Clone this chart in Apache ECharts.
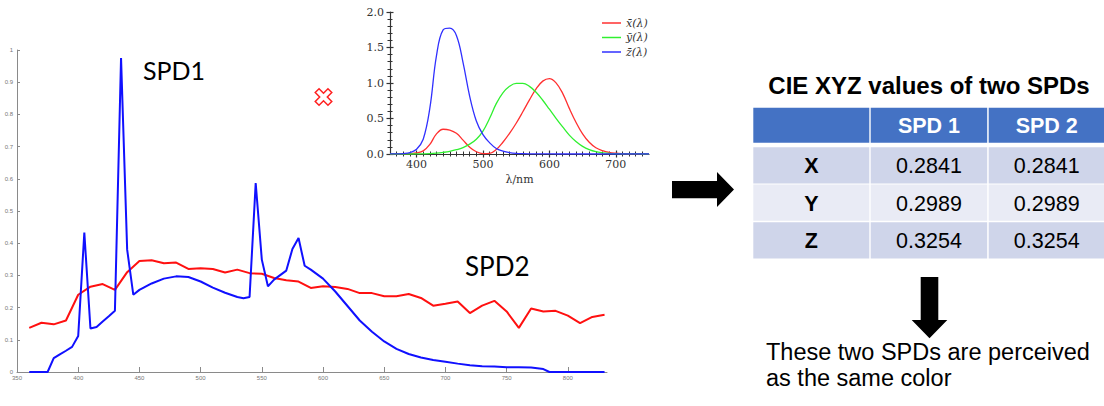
<!DOCTYPE html>
<html><head><meta charset="utf-8">
<script src="https://cdn.jsdelivr.net/npm/echarts@6/dist/echarts.min.js"></script>
<style>html,body{margin:0;padding:0;background:#fff}#c{width:1104px;height:406px}</style>
</head><body><div id="c"></div>
<script>
// ---- Main chart data ----
const spd1Wavelengths = [360,365,370,375,380,385,390,395,400,405,410,415,420,425,430,435,440,445,450,460,470,480,490,500,510,520,530,535,540,545,550,555,560,570,575,580,585,590,600,610,620,630,640,650,660,670,680,690,700,710,720,730,740,750,760,770,780,785,790,800,810,820,830];
const spd1Values = [0,0,0,0,0.043,0.055,0.066,0.078,0.112,0.433,0.135,0.14,0.157,0.173,0.19,0.975,0.38,0.24,0.255,0.275,0.29,0.297,0.295,0.281,0.262,0.246,0.233,0.229,0.233,0.587,0.349,0.266,0.287,0.315,0.382,0.416,0.33,0.318,0.29,0.25,0.205,0.16,0.125,0.095,0.072,0.056,0.045,0.037,0.032,0.026,0.021,0.018,0.017,0.015,0.015,0.014,0.009,0,0,0,0,0,0];
const spd2Wavelengths = [360,370,380,390,400,410,420,430,440,450,460,470,480,490,500,510,520,530,540,550,560,570,580,590,600,610,620,630,640,650,660,670,680,690,700,710,720,730,740,750,760,770,780,790,800,810,820,830];
const spd2Values = [0.137,0.153,0.148,0.16,0.24,0.265,0.273,0.255,0.31,0.345,0.347,0.338,0.34,0.32,0.322,0.32,0.309,0.318,0.307,0.305,0.292,0.285,0.281,0.261,0.266,0.264,0.258,0.245,0.245,0.235,0.235,0.242,0.23,0.206,0.212,0.219,0.183,0.206,0.221,0.188,0.137,0.197,0.188,0.19,0.175,0.152,0.171,0.178];
const mainXTicks = [350,400,450,500,550,600,650,700,750,800];

// ---- Inset: CIE 1931 colour matching functions ----
const cmfWavelengths = [360,370,380,390,400,410,420,430,440,450,460,470,480,490,500,510,520,530,540,550,560,570,580,590,600,610,620,630,640,650,660,670,680,690,700,710,720,730,740,750];
const cmfX = [0.00013,0.000415,0.001368,0.004243,0.01431,0.04351,0.13438,0.2839,0.34828,0.3362,0.2908,0.19536,0.09564,0.03201,0.0049,0.0093,0.06327,0.1655,0.2904,0.43345,0.5945,0.7621,0.9163,1.0263,1.0622,1.0026,0.85445,0.6424,0.4479,0.2835,0.1649,0.0874,0.04677,0.0227,0.011359,0.00579,0.002899,0.00144,0.00069,0.000332];
const cmfY = [0.000004,0.000012,0.000039,0.00012,0.000396,0.00121,0.004,0.0116,0.023,0.038,0.06,0.09098,0.13902,0.20802,0.323,0.503,0.71,0.862,0.954,0.99495,0.995,0.952,0.87,0.757,0.631,0.503,0.381,0.265,0.175,0.107,0.061,0.032,0.017,0.00821,0.004102,0.002091,0.001047,0.00052,0.000249,0.00012];
const cmfZ = [0.000606,0.001946,0.00645,0.02005,0.06785,0.2074,0.6456,1.3856,1.74706,1.77211,1.6692,1.28764,0.81295,0.46518,0.272,0.1582,0.07825,0.04216,0.0203,0.00875,0.0039,0.0021,0.00165,0.0011,0.0008,0.00034,0.00019,0.00005,0.00002,0,0,0,0,0,0,0,0,0,0,0];
const cmfNames = ['x\u0304(\u03bb)', 'y\u0304(\u03bb)', 'z\u0304(\u03bb)'];
const insetXTicks = [400,500,600,700];
const insetMinorTicks = [370,380,390,400,410,420,430,440,450,460,470,480,490,500,510,520,530,540,550,560,570,580,590,600,610,620,630,640,650,660,670,680,690,700,710,720,730,740];

// ---- Table ----
const tableTitle = 'CIE XYZ values of two SPDs';
const tableHeader = ['', 'SPD 1', 'SPD 2'];
const tableRows = [['X','0.2841','0.2841'],['Y','0.2989','0.2989'],['Z','0.3254','0.3254']];
const noteLines = ['These two SPDs are perceived', 'as the same color'];

const pairs = (xs, ys) => xs.map((x, i) => [x, ys[i]]);

const chart = echarts.init(document.getElementById('c'), null, {renderer: 'svg'});

const SANS = 'Liberation Sans, Arial, sans-serif';
const SERIF = 'DejaVu Serif, serif';
const mainGrey = '#8a8a8a';
const insetInk = '#333';

function insetX(extra) {
  return Object.assign({
    type: 'value', gridIndex: 1, min: 360, max: 750, position: 'bottom',
    axisLine: {show: false, onZero: false}, splitLine: {show: false},
    axisLabel: {show: false}, axisTick: {show: false}
  }, extra);
}
function insetY(extra) {
  return Object.assign({
    type: 'value', gridIndex: 1, min: 0, max: 2, interval: 0.5, position: 'left',
    axisLine: {show: false, onZero: false}, splitLine: {show: false},
    axisLabel: {show: false}, axisTick: {show: false}
  }, extra);
}

// table graphics
const colX = [753.3, 870.7, 988.7];
const colW = [116, 116.5, 116];
const headTop = 107.7, headH = 35;
const rowTops = [147.3, 184.6, 222.2], rowH = 36.2;
const rowFill = ['#CFD5EA', '#E9EBF5', '#CFD5EA'];
const tableEls = [];
for (let c = 0; c < 3; c++) {
  tableEls.push({type: 'rect', shape: {x: colX[c], y: headTop, width: colW[c], height: headH}, style: {fill: '#4472C4'}});
  if (tableHeader[c]) tableEls.push({type: 'text', x: colX[c] + colW[c] / 2, y: headTop + headH / 2 + 1,
    style: {text: tableHeader[c], fill: '#fff', font: 'bold 21.5px ' + SANS, align: 'center', verticalAlign: 'middle'}});
}
tableRows.forEach((row, r) => {
  for (let c = 0; c < 3; c++) {
    tableEls.push({type: 'rect', shape: {x: colX[c], y: rowTops[r], width: colW[c], height: rowH}, style: {fill: rowFill[r]}});
    tableEls.push({type: 'text', x: colX[c] + colW[c] / 2, y: rowTops[r] + rowH / 2 + 1,
      style: {text: row[c], fill: '#000', font: (c === 0 ? 'bold ' : '') + '21.5px ' + SANS, align: 'center', verticalAlign: 'middle'}});
  }
});

// hollow cross shape (plus rotated 45deg)
const w = 2.7, L = 9;
const plus = [[-w,-L],[w,-L],[w,-w],[L,-w],[L,w],[w,w],[w,L],[-w,L],[-w,w],[-L,w],[-L,-w],[-w,-w]];

const option = {
  animation: false,
  backgroundColor: '#fff',
  grid: [
    {left: 17, right: 497, top: 50, bottom: 34},
    {left: 390, top: 12, width: 259, height: 142}
  ],
  legend: {
    data: cmfNames, left: 597, top: 12, orient: 'vertical', icon: 'rect',
    itemWidth: 19, itemHeight: 1.5, itemGap: 2.5,
    textStyle: {fontFamily: SERIF, fontStyle: 'italic', fontSize: 11, color: insetInk, lineHeight: 12}
  },
  xAxis: [
    {type: 'value', gridIndex: 0, min: 350, max: 832, position: 'bottom',
      axisLine: {show: true, onZero: false, lineStyle: {color: mainGrey, width: 1}},
      axisTick: {show: true, inside: true, length: 5, customValues: mainXTicks, lineStyle: {color: mainGrey}},
      axisLabel: {customValues: mainXTicks, fontSize: 6, color: '#777', margin: 3, fontFamily: SANS},
      splitLine: {show: false}},
    insetX({axisLine: {show: true, onZero: false, lineStyle: {color: insetInk, width: 1.2}},
      axisTick: {show: true, length: 3.5, customValues: insetXTicks, lineStyle: {color: insetInk, width: 1.2}},
      axisLabel: {show: true, customValues: insetXTicks, fontFamily: SERIF, fontSize: 11, color: insetInk, margin: 5},
      name: '\u03bb/nm', nameLocation: 'middle', nameGap: 20,
      nameTextStyle: {fontFamily: SERIF, fontSize: 11, color: insetInk}}),
    insetX({axisTick: {show: true, inside: true, length: 3.5, customValues: insetXTicks, lineStyle: {color: insetInk, width: 1.2}}}),
    insetX({axisTick: {show: true, length: 2.5, customValues: insetMinorTicks, lineStyle: {color: insetInk}}}),
    insetX({axisTick: {show: true, inside: true, length: 2.5, customValues: insetMinorTicks, lineStyle: {color: insetInk}}})
  ],
  yAxis: [
    {type: 'value', gridIndex: 0, min: 0, max: 1, interval: 0.1,
      axisLine: {show: true, lineStyle: {color: mainGrey, width: 1}},
      axisTick: {show: true, inside: true, length: 3, lineStyle: {color: mainGrey}},
      axisLabel: {fontSize: 6, color: '#777', margin: 4, fontFamily: SANS},
      splitLine: {show: false}},
    insetY({axisLine: {show: true, onZero: false, lineStyle: {color: insetInk, width: 1.2}},
      axisTick: {show: true, length: 3.5, lineStyle: {color: insetInk, width: 1.2}},
      minorTick: {show: true, splitNumber: 5, length: 2.5, lineStyle: {color: insetInk}},
      axisLabel: {show: true, fontFamily: SERIF, fontSize: 11, color: insetInk, margin: 6, formatter: v => v.toFixed(1)}}),
    insetY({axisTick: {show: true, inside: true, length: 3.5, lineStyle: {color: insetInk, width: 1.2}},
      minorTick: {show: true, splitNumber: 5, length: 2.5, lineStyle: {color: insetInk}}})
  ],
  series: [
    {name: 'SPD1', type: 'line', xAxisIndex: 0, yAxisIndex: 0, data: pairs(spd1Wavelengths, spd1Values),
      symbol: 'none', lineStyle: {color: '#1010ff', width: 2}, itemStyle: {color: '#1010ff'}, z: 3},
    {name: 'SPD2', type: 'line', xAxisIndex: 0, yAxisIndex: 0, data: pairs(spd2Wavelengths, spd2Values),
      symbol: 'none', lineStyle: {color: '#ff1010', width: 2}, itemStyle: {color: '#ff1010'}, z: 2},
    {name: cmfNames[0], type: 'line', xAxisIndex: 1, yAxisIndex: 1, data: pairs(cmfWavelengths, cmfX), smooth: 0.4,
      symbol: 'none', lineStyle: {color: '#ff3030', width: 1.3}, itemStyle: {color: '#ff3030'}},
    {name: cmfNames[1], type: 'line', xAxisIndex: 1, yAxisIndex: 1, data: pairs(cmfWavelengths, cmfY), smooth: 0.4,
      symbol: 'none', lineStyle: {color: '#30f030', width: 1.3}, itemStyle: {color: '#30f030'}},
    {name: cmfNames[2], type: 'line', xAxisIndex: 1, yAxisIndex: 1, data: pairs(cmfWavelengths, cmfZ), smooth: 0.4,
      symbol: 'none', lineStyle: {color: '#3030ff', width: 1.3}, itemStyle: {color: '#3030ff'}}
  ],
  graphic: [
    {type: 'text', x: 143, y: 57, style: {text: 'SPD1', font: '25px Lato, sans-serif', fill: '#000'}},
    {type: 'text', x: 465, y: 253, style: {text: 'SPD2', font: '26px Lato, sans-serif', fill: '#000'}},
    {type: 'polygon', x: 323.5, y: 97, rotation: Math.PI / 4, shape: {points: plus},
      style: {fill: '#fff', stroke: '#ff2020', lineWidth: 1.5}},
    {type: 'polygon', shape: {points: [[672,181],[717,181],[717,172],[734,189.5],[717,207],[717,198.3],[672,198.3]]}, style: {fill: '#000'}},
    {type: 'polygon', shape: {points: [[920.7,277],[938.3,277],[938.3,320],[947.3,320],[929.5,338.3],[911.7,320],[920.7,320]]}, style: {fill: '#000'}},
    {type: 'text', x: 929, y: 85, style: {text: tableTitle, font: 'bold 24px ' + SANS, fill: '#000', align: 'center', verticalAlign: 'middle'}},
    ...tableEls,
    {type: 'text', x: 766, y: 352, style: {text: noteLines[0], font: '23.5px ' + SANS, fill: '#000', verticalAlign: 'middle'}},
    {type: 'text', x: 766, y: 378, style: {text: noteLines[1], font: '23.5px ' + SANS, fill: '#000', verticalAlign: 'middle'}}
  ]
};
chart.setOption(option);
</script></body></html>
